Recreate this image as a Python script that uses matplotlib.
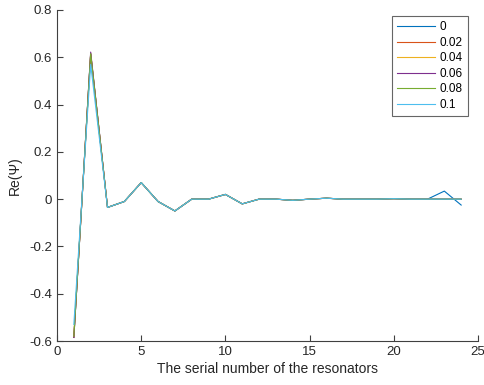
import matplotlib
matplotlib.use("Agg")
import matplotlib.pyplot as plt

plt.rcParams['font.family'] = ['Liberation Sans', 'DejaVu Sans']

# resonator index and Re(Psi) for each damping value
n = list(range(1, 25))
labels = ["0", "0.02", "0.04", "0.06", "0.08", "0.1"]
# resonators 3..22, shared by all runs
tail = [-0.035, -0.01, 0.07, -0.01, -0.05, 0.0, 0.0, 0.02, -0.02, 0.0,
        0.0, -0.005, 0.0, 0.004, 0.0, 0.0, 0.0, 0.002, 0.0, 0.0]
psi_0 = [-0.585, 0.615] + tail + [0.034, -0.025]
psi_002 = [-0.585, 0.615] + tail + [0.0, 0.0]
psi_004 = [-0.58, 0.615] + tail + [0.0, 0.0]
psi_006 = [-0.585, 0.622] + tail + [0.0, 0.0]
psi_008 = [-0.58, 0.615] + tail + [0.0, 0.0]
psi_01 = [-0.53, 0.57] + tail + [0.0, 0.0]
series = [psi_0, psi_002, psi_004, psi_006, psi_008, psi_01]

colors = ['#0072BD', '#D95319', '#EDB120', '#7E2F8E', '#77AC30', '#4DBEEE']
axcol = '#404040'
txtcol = '#262626'

fig = plt.figure(figsize=(4.85, 3.85), dpi=100)
ax = fig.add_axes([57 / 485, 44 / 385, 421 / 485, 331 / 385])

for y, lab, c in zip(series, labels, colors):
    ax.plot(n, y, color=c, lw=0.8, label=lab)

ax.set_xlim(0, 25)
ax.set_ylim(-0.6, 0.8)
ax.set_xticks([0, 5, 10, 15, 20, 25])
ax.set_yticks([-0.6, -0.4, -0.2, 0, 0.2, 0.4, 0.6, 0.8])
ax.set_yticklabels(['-0.6', '-0.4', '-0.2', '0', '0.2', '0.4', '0.6', '0.8'])
ax.spines['top'].set_visible(False)
ax.spines['right'].set_visible(False)
for s in ('left', 'bottom'):
    ax.spines[s].set_color(axcol)
    ax.spines[s].set_linewidth(0.8)
ax.tick_params(direction='in', length=4, width=0.8, color=axcol,
               labelcolor=txtcol, labelsize=9.5)

ax.set_xlabel('The serial number of the resonators', fontsize=10, color=txtcol, labelpad=3)
ax.set_ylabel('Re(Ψ)', fontsize=10, color=txtcol, labelpad=5)

leg = ax.legend(loc='upper right', bbox_to_anchor=(468 / 485, 1 - 16 / 385),
                bbox_transform=fig.transFigure, fontsize=8.5, frameon=True,
                fancybox=False, handlelength=3.2, handletextpad=0.4,
                labelspacing=0.3, borderpad=0.45, borderaxespad=0)
leg.get_frame().set_edgecolor(axcol)
leg.get_frame().set_linewidth(0.8)

fig.savefig('out.png', dpi=100)
